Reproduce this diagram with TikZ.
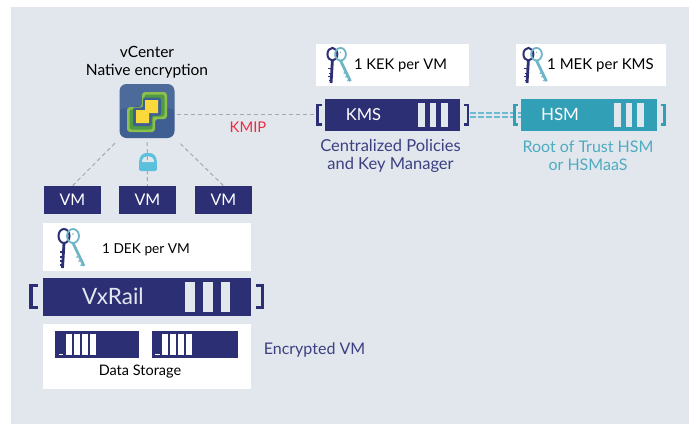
\documentclass[tikz,border=0pt]{standalone}
\usepackage{fontspec}
\setmainfont{Lato}
\definecolor{bgc}{HTML}{E2E7EE}
\definecolor{navy}{HTML}{2C2F74}
\definecolor{capnavy}{HTML}{3C3F80}
\definecolor{teal}{HTML}{319FB5}
\definecolor{capteal}{HTML}{4FABC0}
\definecolor{dashteal}{HTML}{6DBBD0}
\definecolor{keyteal}{HTML}{6FB5C8}
\definecolor{kmipred}{HTML}{F02A3E}
\definecolor{dashgray}{HTML}{A5A9AF}
\definecolor{iconblue}{HTML}{3F5F93}
\definecolor{greenout}{HTML}{8CBF4B}
\definecolor{greenin}{HTML}{4F9A45}
\definecolor{yell}{HTML}{FBD93C}
\definecolor{lockc}{HTML}{5BC0DC}
\tikzset{
  x=1pt,y=-1pt,
  lbl/.style={inner sep=0pt,align=center,font=\fontsize{#1}{18}\selectfont},
  navybox/.style={fill=navy,draw=none,inner sep=0pt},
  whitebox/.style={fill=white,draw=none,inner sep=0pt},
  vmbox/.style={navybox,minimum width=57pt,minimum height=28pt,text=white,font=\fontsize{16}{18}\selectfont},
  conn/.style={draw=dashgray,line width=1pt,dash pattern=on 4pt off 3pt},
  brk/.style={line width=2.8pt,line cap=butt},
  bigbrk/.style={line width=3.4pt,line cap=butt},
  pics/keys/.style={code={
    \draw[navy,line width=2pt] (6,8) ellipse [x radius=5.5,y radius=7];
    \draw[navy,line width=2.8pt] (6,15) -- (4.5,40);
    \draw[navy,line width=1.2pt] (4,24)--(1.5,24) (4,29)--(2,29) (4,33)--(1.5,33) (4,37)--(2,37);
    \draw[keyteal,line width=1.8pt] (15,8) ellipse [x radius=6,y radius=7];
    \fill[keyteal] (15,6) circle [radius=0.8];
    \draw[keyteal,line width=2.8pt] (15,15) -- (26,38);
    \draw[keyteal,line width=1.2pt] (21,28)--(18.5,29.5) (23,32)--(20.5,33.5) (25,36)--(22.5,37.5);
  }}
}
\begin{document}
\begin{tikzpicture}
\useasboundingbox (0,0) rectangle (694,424);
\fill[bgc] (11,7) rectangle (689,424);

% white panels
\node[whitebox,minimum width=208pt,minimum height=48pt] (dekbox) at (147,247) {};
\node[whitebox,minimum width=208pt,minimum height=65pt] (storebox) at (147,356.5) {};
\node[whitebox,minimum width=153pt,minimum height=42pt] (kekbox) at (392.5,65) {};
\node[whitebox,minimum width=150pt,minimum height=42pt] (mekbox) at (591,65) {};

% vCenter icon
\node[fill=iconblue,rounded corners=7pt,minimum width=55pt,minimum height=54pt,inner sep=0pt] (icon) at (147,111) {};
\fill[white,opacity=0.07] (119.5,110) .. controls (135,104) and (160,104) .. (174.5,110) -- (174.5,92) .. controls (174.5,87) and (171,84) .. (167,84) -- (127,84) .. controls (123,84) and (119.5,87) .. (119.5,92) -- cycle;
\fill[greenout,rounded corners=3pt] (142,92)--(167,92)--(167,119)--(155,119)--(155,132)--(127,132)--(127,107)--(142,107)--cycle;
\fill[greenin,rounded corners=2.5pt] (144.5,94.5)--(164.5,94.5)--(164.5,116.5)--(152.5,116.5)--(152.5,129.5)--(129.5,129.5)--(129.5,109.5)--(144.5,109.5)--cycle;
\fill[iconblue,rounded corners=2pt] (143,97.5)--(161,97.5)--(161,115.5)--(151.5,115.5)--(151.5,126)--(133,126)--(133,107.5)--(143,107.5)--cycle;
\fill[yell] (145,100)--(158,100)--(158,113)--(149,113)--(149,123)--(136,123)--(136,110)--(145,110)--cycle;

% labels
\node[lbl=15.5,text=black] (vc) at (147,62) {vCenter\\Native encryption};
\node[lbl=14.8,text=kmipred] (kmip) at (248,127.5) {KMIP};

% VMs
\node[vmbox] (vm1) at (72.5,200) {VM};
\node[vmbox] (vm2) at (147.5,200) {VM};
\node[vmbox] (vm3) at (223.5,200) {VM};

% KMS, HSM
\node[navybox,minimum width=135pt,minimum height=32pt] (kms) at (392.5,115) {};
\node[lbl=16.5,text=white] (kmst) at (363.5,114.5) {KMS};
\node[fill=teal,inner sep=0pt,minimum width=136pt,minimum height=32pt] (hsm) at (589,115) {};
\node[lbl=17,text=white] (hsmt) at (560,114.5) {HSM};
\foreach \bx in {418,429.5,441}{\fill[bgc] (\bx,103) rectangle +(6.5,24);}
\foreach \bx in {614,625.5,637}{\fill[bgc] (\bx,103) rectangle +(6.5,24);}

% lock
\fill[lockc,rounded corners=1.5pt] (139.2,171) -- (139.2,163) .. controls (139.2,156) and (143,153) .. (148,153) .. controls (153,153) and (156.8,156) .. (156.8,163) -- (156.8,171) -- cycle;
\fill[bgc] (142,162) .. controls (142,158) and (145,156) .. (148,156) .. controls (151,156) and (154,158) .. (154,162) -- cycle;

% connectors
\coordinate (kmsin) at (317,114.5);
\draw[conn,shorten <=2pt] (icon.east) ++(0,3.5) coordinate (iconr) (iconr) -- (kmsin);
\draw[conn,shorten <=7pt] (icon) -- (vm1.north);
\draw[conn,shorten <=4pt] (icon) -- (vm2.north);
\draw[conn,shorten <=8pt] (icon) -- (vm3.north);
\draw[dashteal,line width=1.7pt,dash pattern=on 6pt off 2pt,shorten <=10pt] ([yshift=-2pt]kms.east) -- ([yshift=-2pt]hsm.west);
\draw[dashteal,line width=1.7pt,dash pattern=on 6pt off 2pt,shorten <=10pt] ([yshift=2pt]kms.east) -- ([yshift=2pt]hsm.west);

% brackets
\draw[navy,bigbrk] (38,285.7) -- (31,285.7) -- (31,307.3) -- (38,307.3);
\draw[navy,bigbrk] (255.5,285.7) -- (262.3,285.7) -- (262.3,307.3) -- (255.5,307.3);
\draw[navy,brk] (322,105) -- (317.5,105) -- (317.5,124.5) -- (322,124.5);
\draw[navy,brk] (464,105) -- (468,105) -- (468,124.5) -- (464,124.5);
\draw[teal,brk] (518,105) -- (514.5,105) -- (514.5,124.5) -- (518,124.5);
\draw[teal,brk] (661,105) -- (664.5,105) -- (664.5,124.5) -- (661,124.5);

% VxRail
\node[navybox,minimum width=208pt,minimum height=38pt] (vxrail) at (147,296.5) {};
\node[lbl=22.5,text=bgc] (vxt) at (113,296.5) {VxRail};
\foreach \bx in {185,203,220.5}{\fill[bgc] (\bx,282) rectangle +(9.5,29.5);}

% storage
\node[navybox,minimum width=84pt,minimum height=27pt] (disk1) at (97,344.5) {};
\node[navybox,minimum width=86pt,minimum height=27pt] (disk2) at (195,344.5) {};
\foreach \bx in {66,74,82,90}{\fill[white] (\bx,334) rectangle +(5.7,21);}
\foreach \bx in {162,170,178,186}{\fill[white] (\bx,334) rectangle +(5.7,21);}
\fill[white] (59,353.5) rectangle +(4,1.2);
\fill[white] (155,354) rectangle +(4.5,1.2);
\node[lbl=14.5,text=black] (dst) at (140,371.5) {Data Storage};
\node[lbl=16,text=capnavy] (enc) at (314.5,350) {Encrypted VM};

% key panels
\pic at (58,228) {keys};
\pic[scale=0.9] at (327,47) {keys};
\pic[scale=0.9] at (523,47) {keys};
\node[lbl=13.7,text=black] (dek) at (146,249.5) {1 DEK per VM};
\node[lbl=14.7,text=black] (kek) at (400.5,65.5) {1 KEK per VM};
\node[lbl=15,text=black] (mek) at (600.5,65.5) {1 MEK per KMS};

% captions
\node[lbl=16.5,text=capnavy] (kmscap) at (390.5,155.5) {Centralized Policies\\and Key Manager};
\node[lbl=16,text=capteal] (hsmcap) at (588,155.5) {Root of Trust HSM\\or HSMaaS};
\end{tikzpicture}
\end{document}
